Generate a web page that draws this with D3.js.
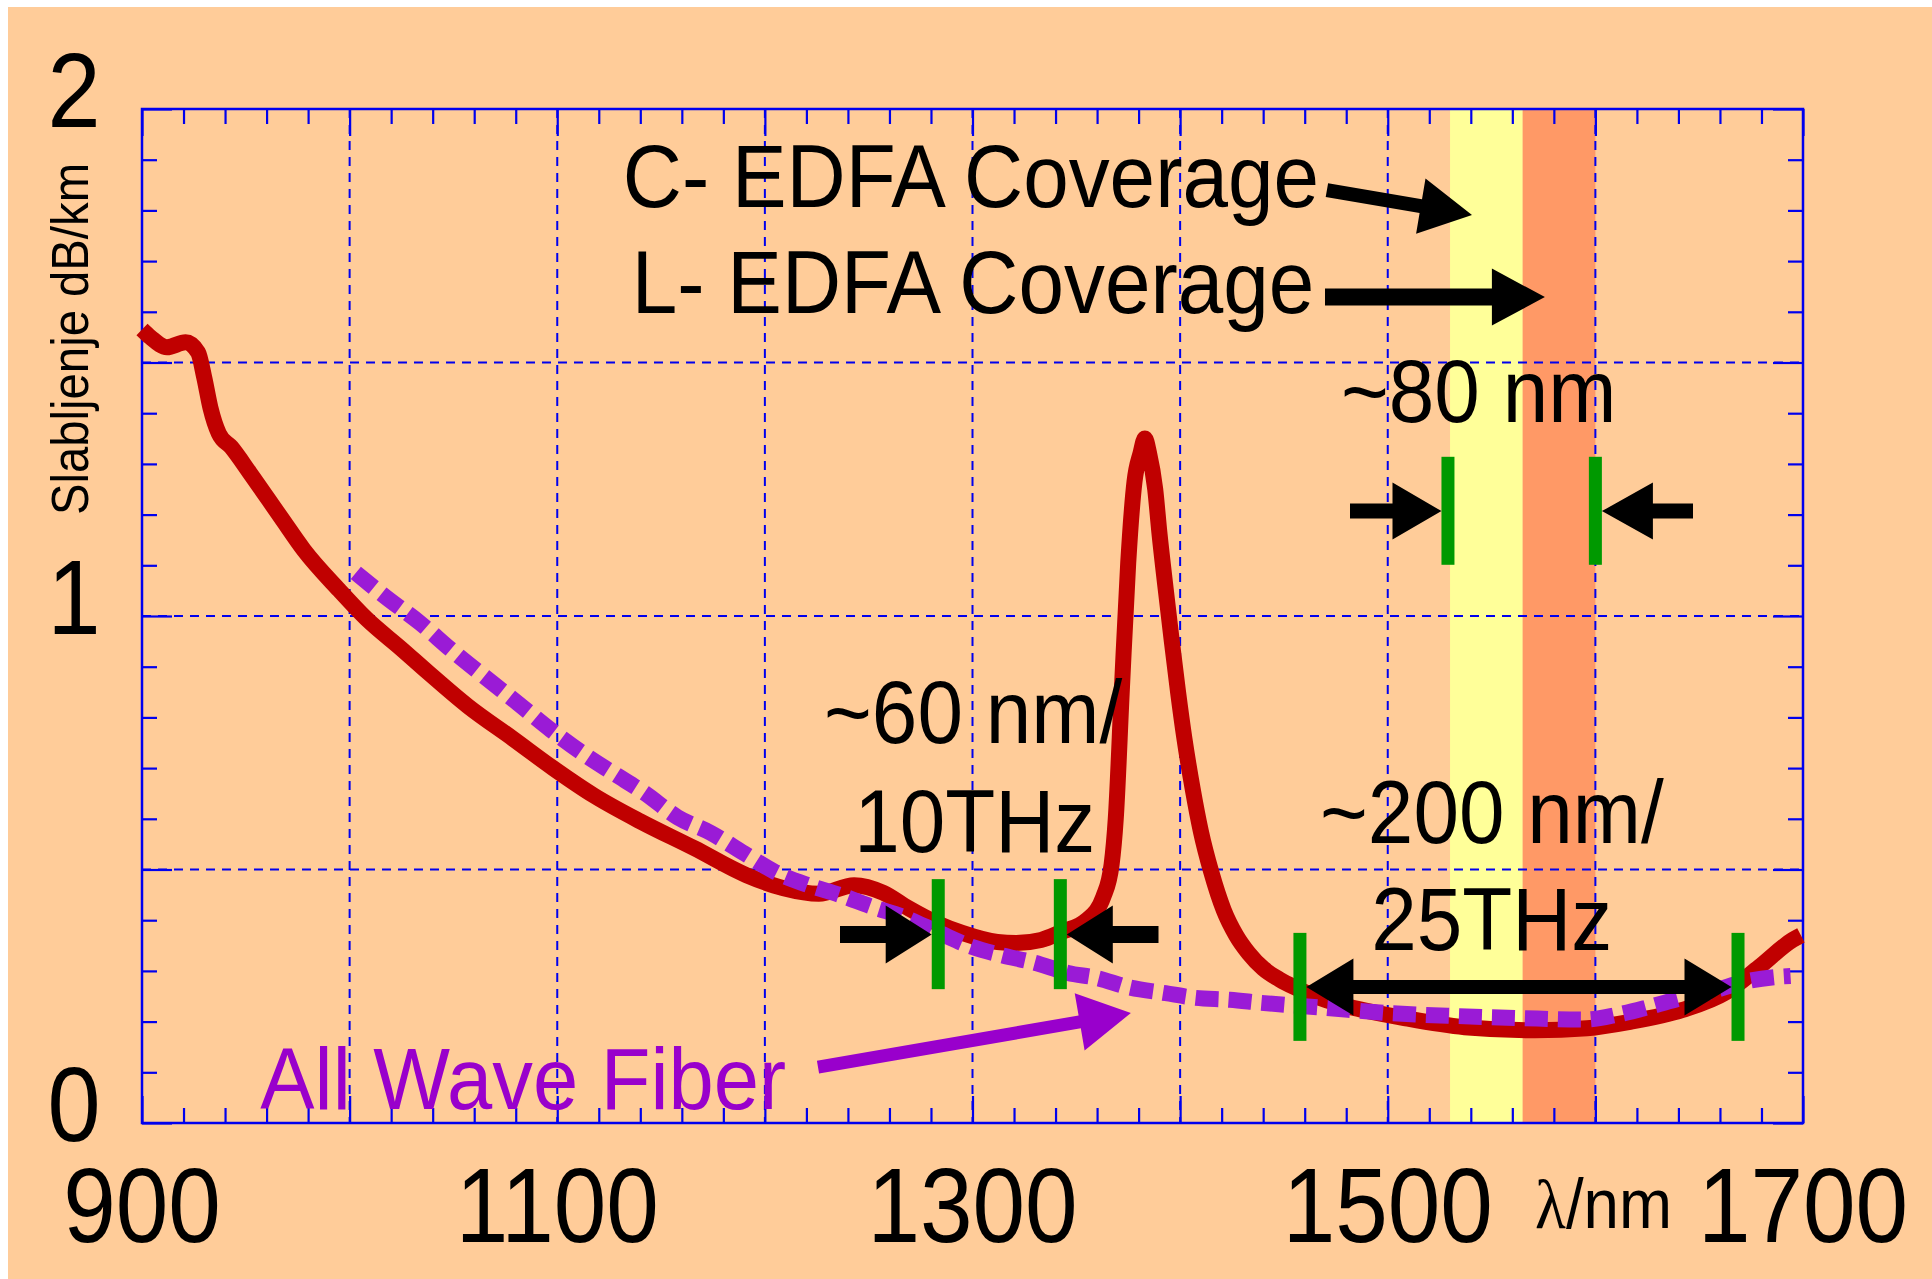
<!DOCTYPE html>
<html>
<head>
<meta charset="utf-8">
<script src="https://cdn.jsdelivr.net/npm/d3@7"></script>
<style>
  html, body { margin: 0; padding: 0; background: #ffffff; }
  svg { display: block; }
</style>
</head>
<body>
<script>
// Fibre attenuation (dB/km) versus wavelength (nm)

// Standard single-mode fibre, with the water peak near 1383 nm
const standardNm = [900, 904, 912, 921, 927, 930, 933, 937, 943, 952, 967, 978, 995, 1008, 1025, 1038,
  1057, 1079, 1098, 1118, 1140, 1166, 1191, 1209, 1226, 1243, 1257, 1269, 1283, 1295, 1312, 1321,
  1333, 1343, 1355, 1363, 1367, 1369, 1372, 1375, 1378, 1381, 1383, 1385, 1388, 1390, 1393, 1396,
  1399, 1402, 1406, 1410, 1415, 1421, 1427, 1433, 1440, 1448, 1455, 1465, 1478, 1508, 1537, 1571,
  1596, 1616, 1642, 1663, 1679, 1695, 1699];
const standardDb = [1.565, 1.55, 1.53, 1.54, 1.52, 1.47, 1.41, 1.36, 1.333, 1.282, 1.194, 1.13, 1.051, 0.995,
  0.935, 0.888, 0.822, 0.757, 0.700, 0.645, 0.595, 0.542, 0.489, 0.463, 0.452, 0.469, 0.454, 0.424,
  0.394, 0.375, 0.357, 0.355, 0.361, 0.377, 0.40, 0.446, 0.51, 0.60, 0.86, 1.105, 1.264, 1.322,
  1.35, 1.322, 1.25, 1.165, 1.055, 0.95, 0.85, 0.76, 0.66, 0.575, 0.495, 0.42, 0.37, 0.335, 0.305,
  0.283, 0.268, 0.25, 0.233, 0.207, 0.189, 0.183, 0.187, 0.199, 0.223, 0.258, 0.308, 0.361, 0.37];

// AllWave (low water peak) fibre
const allWaveNm = [1003, 1017.5, 1034, 1049, 1065, 1081, 1097, 1112, 1127, 1142, 1158, 1174, 1190, 1205,
  1221, 1236, 1252, 1267, 1284, 1300, 1314, 1330, 1346, 1360, 1375, 1393, 1407, 1424, 1439, 1470,
  1500, 1533, 1564, 1595, 1611, 1626, 1642, 1658, 1671, 1687, 1694];
const allWaveDb = [1.085, 1.037, 0.986, 0.933, 0.88, 0.828, 0.775, 0.73, 0.69, 0.651, 0.603, 0.572, 0.532,
  0.495, 0.469, 0.45, 0.426, 0.406, 0.375, 0.347, 0.331, 0.316, 0.296, 0.286, 0.268, 0.256, 0.247,
  0.243, 0.237, 0.227, 0.217, 0.211, 0.207, 0.204, 0.214, 0.229, 0.247, 0.262, 0.278, 0.288, 0.29];

// Axis ticks
const xLabelValues = [900, 1100, 1300, 1500, 1700];
const xGridValues = [1000, 1100, 1200, 1300, 1400, 1500, 1600];
const yLabelValues = [0, 1, 2];
const yGridValues = [0.5, 1.0, 1.5];

// Amplifier bands (nm)
const bandNames = ["C", "L"];
const bandFrom = [1530, 1565];
const bandTo = [1565, 1600];

// Window edges (nm) with their dB/km extent
const windowEdgesNm = [1283.5, 1342.3, 1457.7, 1668.7, 1529, 1600];
const windowEdgeLo = [0.264, 0.264, 0.162, 0.162, 1.101, 1.101];
const windowEdgeHi = [0.481, 0.481, 0.375, 0.375, 1.314, 1.314];

// Annotation texts: start wavelength, baseline dB/km
const noteTexts = ["C- EDFA Coverage", "L- EDFA Coverage", "~80 nm", "~60 nm/", "10THz", "~200 nm/", "25THz"];
const noteNm = [1131.6, 1135.9, 1477.5, 1228.5, 1243, 1467.4, 1492];
const noteDb = [1.807, 1.598, 1.383, 0.750, 0.535, 0.552, 0.341];

const W = 1932, H = 1279;
const C = {
  bg: "#ffcc99", blue: "#0000ee", red: "#c00000", purple: "#9a1bd6",
  purpleText: "#9900cc", green: "#009900", yellow: "#ffff99", orange: "#ff9966"
};
const FONT = "'Liberation Sans', Arial, Helvetica, sans-serif";

const svg = d3.select("body").append("svg").attr("width", W).attr("height", H);

const x = d3.scaleLinear().domain([900, 1700]).range([142, 1803]);
const y = d3.scaleLinear().domain([0, 2]).range([1123, 109]);
const [x0, x1] = x.range();
const [yB, yT] = y.range();

// background
svg.append("rect").attr("x", 8).attr("y", 7).attr("width", W - 8).attr("height", H - 7).attr("fill", C.bg);

// EDFA bands
svg.append("g").selectAll("rect").data(bandNames).join("rect")
  .attr("x", (d, i) => x(bandFrom[i]))
  .attr("width", (d, i) => x(bandTo[i]) - x(bandFrom[i]))
  .attr("y", yT).attr("height", yB - yT)
  .attr("fill", (d, i) => i === 0 ? C.yellow : C.orange);

// dashed grid
const grid = svg.append("g").attr("stroke", C.blue).attr("stroke-width", 2).attr("stroke-dasharray", "9,7");
grid.selectAll("line.v").data(xGridValues).join("line").attr("class", "v")
  .attr("x1", d => x(d)).attr("x2", d => x(d)).attr("y1", yT).attr("y2", yB);
grid.selectAll("line.h").data(yGridValues).join("line").attr("class", "h")
  .attr("y1", d => y(d)).attr("y2", d => y(d)).attr("x1", x0).attr("x2", x1);

// inward ticks on all four sides
function styleTicks(g, majorTest, majorLen, isX, sign) {
  g.select(".domain").remove();
  g.selectAll(".tick line").attr("stroke", C.blue).attr("stroke-width", 2.2)
    .each(function(d) {
      const len = majorTest(d) ? majorLen : 15;
      d3.select(this).attr(isX ? "y2" : "x2", sign * len);
    });
  g.selectAll(".tick text").remove();
}
const xMinor = d3.range(900, 1701, 20);
const yMinor = d3.range(0, 21).map(i => i / 10);
const isXMajor = d => d % 100 === 0;
const isYMajor = d => Math.abs(d * 2 - Math.round(d * 2)) < 1e-6;

svg.append("g").attr("transform", `translate(0,${yB})`)
  .call(d3.axisBottom(x).tickValues(xMinor))
  .call(g => styleTicks(g, isXMajor, 27, true, -1));
svg.append("g").attr("transform", `translate(0,${yT})`)
  .call(d3.axisTop(x).tickValues(xMinor))
  .call(g => styleTicks(g, isXMajor, 27, true, 1));
svg.append("g").attr("transform", `translate(${x0},0)`)
  .call(d3.axisLeft(y).tickValues(yMinor))
  .call(g => styleTicks(g, isYMajor, 30, false, 1));
svg.append("g").attr("transform", `translate(${x1},0)`)
  .call(d3.axisRight(y).tickValues(yMinor))
  .call(g => styleTicks(g, isYMajor, 30, false, -1));

// frame
svg.append("rect").attr("x", x0).attr("y", yT).attr("width", x1 - x0).attr("height", yB - yT)
  .attr("fill", "none").attr("stroke", C.blue).attr("stroke-width", 2.5);

// curves
const line = d3.line().x(d => x(d[0])).y(d => y(d[1])).curve(d3.curveMonotoneX);
svg.append("path").datum(d3.zip(standardNm, standardDb)).attr("d", line)
  .attr("fill", "none").attr("stroke", C.red).attr("stroke-width", 16)
  .attr("stroke-linejoin", "round").attr("stroke-linecap", "butt");
svg.append("path").datum(d3.zip(allWaveNm, allWaveDb)).attr("d", line)
  .attr("fill", "none").attr("stroke", C.purple).attr("stroke-width", 16)
  .attr("stroke-dasharray", "23,10").attr("stroke-linecap", "butt");

// window edge markers
const EDGE_W = 13;
svg.append("g").selectAll("rect").data(windowEdgesNm).join("rect")
  .attr("x", d => x(d) - EDGE_W / 2).attr("width", EDGE_W)
  .attr("y", (d, i) => y(windowEdgeHi[i]))
  .attr("height", (d, i) => y(windowEdgeLo[i]) - y(windowEdgeHi[i]))
  .attr("fill", C.green);

// block arrows
function arrowPath(p0, p1, shaft, headLen, headW, twoHeads) {
  const dx = p1[0] - p0[0], dy = p1[1] - p0[1], L = Math.hypot(dx, dy);
  const ux = dx / L, uy = dy / L, nx = -uy, ny = ux;
  const pt = (p, a, b) => [p[0] + ux * a + nx * b, p[1] + uy * a + ny * b];
  const s = shaft / 2, h = headW / 2;
  let pts;
  if (twoHeads) {
    pts = [p0, pt(p0, headLen, h), pt(p0, headLen, s), pt(p1, -headLen, s), pt(p1, -headLen, h), p1,
           pt(p1, -headLen, -h), pt(p1, -headLen, -s), pt(p0, headLen, -s), pt(p0, headLen, -h)];
  } else {
    pts = [pt(p0, 0, s), pt(p1, -headLen, s), pt(p1, -headLen, h), p1,
           pt(p1, -headLen, -h), pt(p1, -headLen, -s), pt(p0, 0, -s)];
  }
  return "M" + pts.map(p => p[0].toFixed(1) + "," + p[1].toFixed(1)).join("L") + "Z";
}
const P = (nm, db) => [x(nm), y(db)];
const off = (p, dx) => [p[0] + dx, p[1]];
const arrows = svg.append("g");
const A = (d, fill) => arrows.append("path").attr("d", d).attr("fill", fill);

// ~60 nm window
A(arrowPath(P(1236.2, 0.372), off(P(1283.5, 0.372), -EDGE_W / 2), 17, 46, 58), "#000");
A(arrowPath(P(1389.6, 0.372), off(P(1342.3, 0.372), EDGE_W / 2), 17, 46, 58), "#000");
// ~200 nm window
A(arrowPath(off(P(1457.7, 0.268), EDGE_W / 2), off(P(1668.7, 0.268), -EDGE_W / 2), 14, 47, 57, true), "#000");
// ~80 nm EDFA span
A(arrowPath(P(1481.8, 1.207), off(P(1529, 1.207), -EDGE_W / 2), 15, 49, 57), "#000");
A(arrowPath(P(1647, 1.207), off(P(1600, 1.207), EDGE_W / 2), 15, 51, 57), "#000");
// band pointers
A(arrowPath(P(1470.7, 1.840), P(1540.6, 1.791), 14, 52, 56), "#000");
A(arrowPath(P(1469.8, 1.629), P(1575.7, 1.629), 17, 53, 57), "#000");
// AllWave pointer
A(arrowPath(P(1225.6, 0.110), P(1376.3, 0.217), 13, 52, 58), C.purpleText);

// text helper: horizontally condensed text
function label(g, txt, px, py, size, anchor, fill, squeeze) {
  return g.append("text")
    .attr("transform", `translate(${px},${py}) scale(${squeeze},1)`)
    .attr("text-anchor", anchor).attr("font-family", FONT).attr("font-size", size)
    .attr("fill", fill).text(txt);
}
const texts = svg.append("g");
noteTexts.forEach((t, i) => label(texts, t, x(noteNm[i]), y(noteDb[i]), 89, "start", "#000", 0.92));
label(texts, "All Wave Fiber", x(957), y(0.0276), 87, "start", C.purpleText, 0.935);

// axis numbers
xLabelValues.forEach(v => label(texts, String(v), x(v), 1242, 105, "middle", "#000", 0.9));
yLabelValues.forEach(v => label(texts, String(v), 74, y(v) + 18, 106, "middle", "#000", 0.9));

// axis titles
const xt = texts.append("text").attr("x", 1535).attr("y", 1228)
  .attr("font-family", FONT).attr("font-size", 70).attr("fill", "#000")
  .attr("textLength", 137).attr("lengthAdjust", "spacingAndGlyphs");
xt.append("tspan").attr("font-family", "'Liberation Serif', 'Times New Roman', serif").text("λ");
xt.append("tspan").text("/nm");

texts.append("text").attr("transform", "translate(88,339) rotate(-90)")
  .attr("text-anchor", "middle").attr("font-family", FONT).attr("font-size", 52)
  .attr("textLength", 352).attr("lengthAdjust", "spacingAndGlyphs")
  .attr("fill", "#000").text("Slabljenje dB/km");
</script>
</body>
</html>
